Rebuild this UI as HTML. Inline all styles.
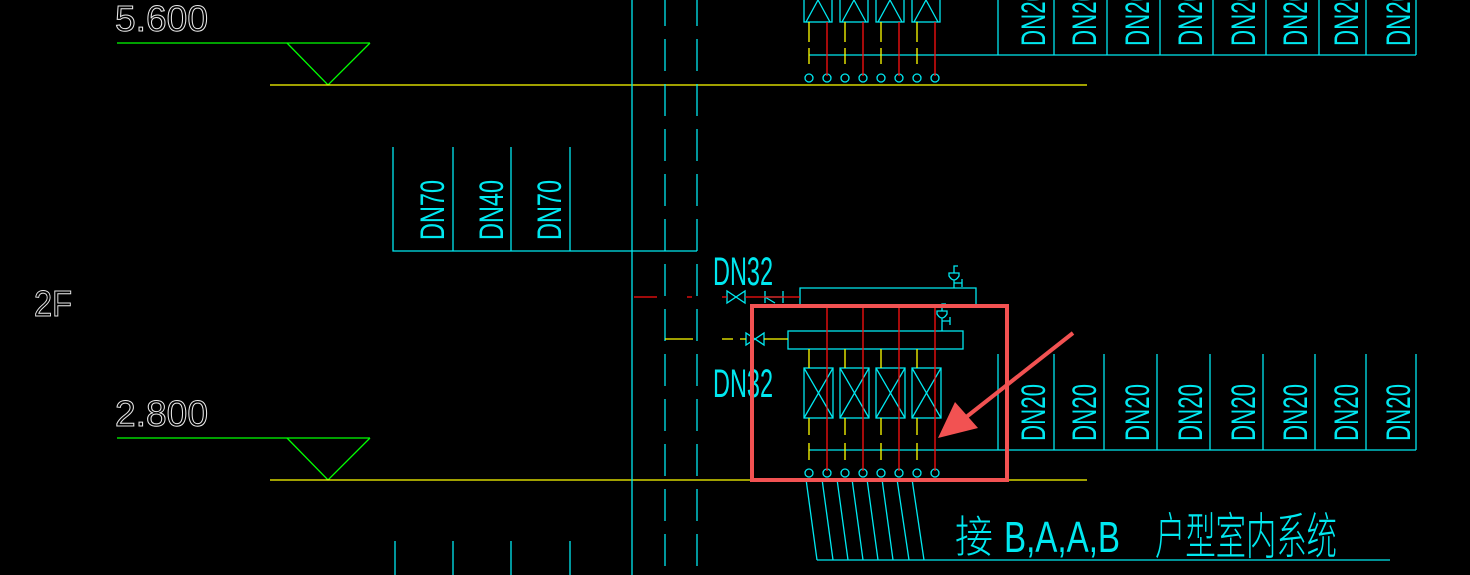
<!DOCTYPE html>
<html><head><meta charset="utf-8"><style>
html,body{margin:0;padding:0;background:#000;width:1470px;height:575px;overflow:hidden}
svg{display:block}
.w{fill:none;stroke:#e8e8e8;stroke-width:1;font-family:"Liberation Sans Narrow","Liberation Sans",sans-serif;font-weight:normal}
.c{fill:#00e8f0;font-family:"Liberation Sans Narrow","Liberation Sans",sans-serif}
</style></head><body>
<svg width="1470" height="575" viewBox="0 0 1470 575" xmlns="http://www.w3.org/2000/svg">
<rect width="1470" height="575" fill="#000"/>
<g fill="none" stroke-width="1.3">
<g stroke="#00ff00">
<line x1="117" y1="43" x2="370" y2="43"/><polyline points="287,43 328,85 370,43"/>
<line x1="117" y1="438" x2="370" y2="438"/><polyline points="287,438 328,480 370,438"/>
</g>
<g stroke="#ffff00">
<line x1="270" y1="85" x2="1087" y2="85"/>
<line x1="270" y1="480" x2="1087" y2="480"/>
</g>
<g stroke="#00e8f0">
<line x1="632" y1="0" x2="632" y2="575"/>
<line x1="665" y1="0" x2="665" y2="575" stroke-dasharray="32 13" stroke-dashoffset="6"/>
<line x1="697" y1="0" x2="697" y2="575" stroke-dasharray="32 13" stroke-dashoffset="6"/>
<polyline points="393,147 393,251 697,251"/>
<line x1="453" y1="147" x2="453" y2="251"/><line x1="511" y1="147" x2="511" y2="251"/><line x1="570" y1="147" x2="570" y2="251"/>
<line x1="395" y1="541" x2="395" y2="575"/><line x1="453" y1="541" x2="453" y2="575"/><line x1="511" y1="541" x2="511" y2="575"/><line x1="570" y1="541" x2="570" y2="575"/>
<line x1="809" y1="55" x2="1416" y2="55"/>
<line x1="998" y1="0" x2="998" y2="55"/><line x1="1054" y1="0" x2="1054" y2="55"/><line x1="1107" y1="0" x2="1107" y2="55"/><line x1="1160" y1="0" x2="1160" y2="55"/><line x1="1213" y1="0" x2="1213" y2="55"/><line x1="1266" y1="0" x2="1266" y2="55"/><line x1="1319" y1="0" x2="1319" y2="55"/><line x1="1366" y1="0" x2="1366" y2="55"/><line x1="1416" y1="0" x2="1416" y2="55"/>
<rect x="804" y="-8" width="28" height="30"/><rect x="840" y="-8" width="28" height="30"/><rect x="876" y="-8" width="28" height="30"/><rect x="912" y="-8" width="28" height="30"/>
<polyline points="806,22 818,0 830,22"/><polyline points="842,22 854,0 866,22"/><polyline points="878,22 890,0 902,22"/><polyline points="914,22 926,0 938,22"/>
<line x1="809" y1="450" x2="1416" y2="450"/>
<line x1="998" y1="354" x2="998" y2="450"/><line x1="1054" y1="354" x2="1054" y2="450"/><line x1="1104" y1="354" x2="1104" y2="450"/><line x1="1157" y1="354" x2="1157" y2="450"/><line x1="1210" y1="354" x2="1210" y2="450"/><line x1="1263" y1="354" x2="1263" y2="450"/><line x1="1315" y1="354" x2="1315" y2="450"/><line x1="1366" y1="354" x2="1366" y2="450"/><line x1="1416" y1="354" x2="1416" y2="450"/>
<polyline points="800,305 800,288 976,288 976,305"/>
<rect x="788" y="331" width="175" height="18"/>
<path d="M954,288 V280 M954,283 H962 M962,279 V287 M949,273 H959 V276 Q954,284 949,276 Z M954,273 V266 H958"/>
<path d="M942,331 V318 M942,321 H950 M950,317 V325 M937,311 H947 V314 Q942,322 937,314 Z M942,311 V304 H946"/>
<path d="M727,291 V303 L745,291 V303 Z"/>
<path d="M765,291 V303 M765,297 L775,303 M783,291 V303 M766,297 H783"/>
<path d="M746,333 V345 L764,333 V345 Z"/>
<rect x="804" y="368" width="29" height="50"/><rect x="840" y="368" width="29" height="50"/><rect x="876" y="368" width="29" height="50"/><rect x="912" y="368" width="29" height="50"/>
<path d="M804,368 L833,418 M833,368 L804,418 M840,368 L869,418 M869,368 L840,418 M876,368 L905,418 M905,368 L876,418 M912,368 L941,418 M941,368 L912,418"/>
<circle cx="809" cy="78" r="4"/><circle cx="827" cy="78" r="4"/><circle cx="845" cy="78" r="4"/><circle cx="863" cy="78" r="4"/><circle cx="881" cy="78" r="4"/><circle cx="899" cy="78" r="4"/><circle cx="917" cy="78" r="4"/><circle cx="935" cy="78" r="4"/>
<circle cx="809" cy="473" r="4"/><circle cx="827" cy="473" r="4"/><circle cx="845" cy="473" r="4"/><circle cx="863" cy="473" r="4"/><circle cx="881" cy="473" r="4"/><circle cx="899" cy="473" r="4"/><circle cx="917" cy="473" r="4"/><circle cx="935" cy="473" r="4"/>
<path d="M806,479 L817,560 M822,479 L833,560 M837,479 L848,560 M852,479 L863,560 M867,479 L878,560 M882,479 L893,560 M897,479 L909,560 M912,479 L924,560"/>
<line x1="817" y1="560" x2="1390" y2="560"/>
</g>
<g stroke="#ffff00">
<path d="M809,22 V42 M809,48 V64 M845,22 V42 M845,48 V64 M881,22 V42 M881,48 V64 M917,22 V42 M917,48 V64"/>
<path d="M809,349 V368 M809,418 V435 M809,443 V460 M845,349 V368 M845,418 V435 M845,443 V460 M881,349 V368 M881,418 V435 M881,443 V460 M917,349 V368 M917,418 V435 M917,443 V460"/>
<path d="M665,339 H693 M722,339 H733 M740,339 H746 M764,339 H788"/>
</g>
<g stroke="#ff1010">
<path d="M827,22 V76 M863,22 V76 M899,22 V76 M935,22 V76"/>
<path d="M827,305 V471 M863,305 V471 M899,305 V471 M935,305 V471"/>
<path d="M634,297 H657 M687,297 H692 M722,297 H727 M745,297 H800"/>
</g>
</g>
<text class="w" x="115" y="31" font-size="36" textLength="93" lengthAdjust="spacingAndGlyphs">5.600</text>
<text class="w" x="115" y="426" font-size="36" textLength="93" lengthAdjust="spacingAndGlyphs">2.800</text>
<text class="w" x="34" y="316" font-size="36" textLength="38" lengthAdjust="spacingAndGlyphs">2F</text>
<text class="c" x="713" y="285" font-size="40" textLength="60" lengthAdjust="spacingAndGlyphs">DN32</text>
<text class="c" x="713" y="397" font-size="40" textLength="60" lengthAdjust="spacingAndGlyphs">DN32</text>
<g class="c" font-size="34">
<text transform="translate(444,240) rotate(-90)" textLength="60" lengthAdjust="spacingAndGlyphs">DN70</text>
<text transform="translate(503,240) rotate(-90)" textLength="60" lengthAdjust="spacingAndGlyphs">DN40</text>
<text transform="translate(561,240) rotate(-90)" textLength="60" lengthAdjust="spacingAndGlyphs">DN70</text>
</g>
<g class="c" font-size="34">
<text transform="translate(1045,441) rotate(-90)" textLength="57" lengthAdjust="spacingAndGlyphs">DN20</text>
<text transform="translate(1096,441) rotate(-90)" textLength="57" lengthAdjust="spacingAndGlyphs">DN20</text>
<text transform="translate(1149,441) rotate(-90)" textLength="57" lengthAdjust="spacingAndGlyphs">DN20</text>
<text transform="translate(1202,441) rotate(-90)" textLength="57" lengthAdjust="spacingAndGlyphs">DN20</text>
<text transform="translate(1255,441) rotate(-90)" textLength="57" lengthAdjust="spacingAndGlyphs">DN20</text>
<text transform="translate(1307,441) rotate(-90)" textLength="57" lengthAdjust="spacingAndGlyphs">DN20</text>
<text transform="translate(1358,441) rotate(-90)" textLength="57" lengthAdjust="spacingAndGlyphs">DN20</text>
<text transform="translate(1410,441) rotate(-90)" textLength="57" lengthAdjust="spacingAndGlyphs">DN20</text>
<text transform="translate(1045,46) rotate(-90)" textLength="57" lengthAdjust="spacingAndGlyphs">DN20</text>
<text transform="translate(1096,46) rotate(-90)" textLength="57" lengthAdjust="spacingAndGlyphs">DN20</text>
<text transform="translate(1149,46) rotate(-90)" textLength="57" lengthAdjust="spacingAndGlyphs">DN20</text>
<text transform="translate(1202,46) rotate(-90)" textLength="57" lengthAdjust="spacingAndGlyphs">DN20</text>
<text transform="translate(1255,46) rotate(-90)" textLength="57" lengthAdjust="spacingAndGlyphs">DN20</text>
<text transform="translate(1307,46) rotate(-90)" textLength="57" lengthAdjust="spacingAndGlyphs">DN20</text>
<text transform="translate(1358,46) rotate(-90)" textLength="57" lengthAdjust="spacingAndGlyphs">DN20</text>
<text transform="translate(1410,46) rotate(-90)" textLength="57" lengthAdjust="spacingAndGlyphs">DN20</text>
</g>
<g fill="#00e8f0" font-family="'Liberation Sans Narrow','Liberation Sans','Noto Sans CJK SC',sans-serif" font-weight="300">
<text x="955" y="552" font-size="44" font-family="'Noto Sans CJK SC',sans-serif" font-weight="300" textLength="38" lengthAdjust="spacingAndGlyphs">接</text>
<text x="1004" y="552" font-size="44" textLength="116" lengthAdjust="spacingAndGlyphs">B,A,A,B</text>
<text x="1155" y="554" font-size="50" font-family="'Noto Sans CJK SC',sans-serif" font-weight="300" textLength="182" lengthAdjust="spacingAndGlyphs">户型室内系统</text>
</g>
<rect x="752" y="306" width="255" height="174" fill="none" stroke="#f25252" stroke-width="4"/>
<line x1="1073" y1="333" x2="965" y2="418" stroke="#f25252" stroke-width="4"/>
<polygon points="938,438 955,402 978,428" fill="#f25252"/>
</svg>
</body></html>
